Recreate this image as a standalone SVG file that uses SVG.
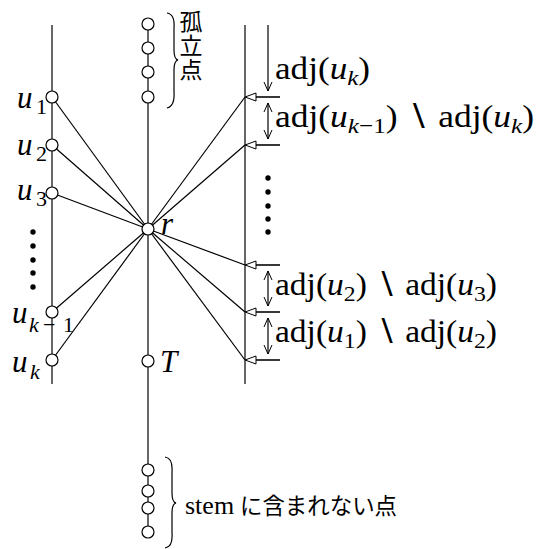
<svg xmlns="http://www.w3.org/2000/svg" width="536" height="549" viewBox="0 0 536 549">
<style>
.ln{stroke:#000;stroke-width:1.2;fill:none}
.hl{stroke:#222;stroke-width:1.8;fill:none}
.tri{fill:#fff;stroke:#000;stroke-width:1}
.nd{fill:#fff;stroke:#000;stroke-width:1.2}
.dot{fill:#000}
.t{font-family:'Liberation Serif','DejaVu Serif','Noto Serif',serif;font-size:31px;fill:#000}
.i{font-style:italic}
.s{font-size:22px}
.j{font-family:'Noto Sans CJK JP','Noto Sans CJK SC',sans-serif;font-size:23px;fill:#000}
</style>
<defs>
<marker id="v" viewBox="0 0 10 10" refX="10" refY="5" markerWidth="10" markerHeight="10" markerUnits="userSpaceOnUse" orient="auto-start-reverse">
<path d="M1,1 L10,5 L1,9" fill="none" stroke="#000" stroke-width="1"/>
</marker>
</defs>

<g id="connectors">
<line class="ln" x1="52" y1="25" x2="52" y2="384"/>
<line class="ln" x1="245" y1="25" x2="245" y2="384"/>
<line class="ln" x1="148" y1="24" x2="148" y2="532"/>
<line class="ln" x1="52" y1="97" x2="148" y2="229"/>
<line class="ln" x1="52" y1="145" x2="148" y2="229"/>
<line class="ln" x1="52" y1="193" x2="148" y2="229"/>
<line class="ln" x1="52" y1="312" x2="148" y2="229"/>
<line class="ln" x1="52" y1="360" x2="148" y2="229"/>
<line class="ln" x1="148" y1="229" x2="245" y2="97"/>
<line class="ln" x1="148" y1="229" x2="245" y2="145"/>
<line class="ln" x1="148" y1="229" x2="245" y2="265"/>
<line class="ln" x1="148" y1="229" x2="245" y2="312"/>
<line class="ln" x1="148" y1="229" x2="245" y2="360"/>
<line class="hl" x1="255" y1="97" x2="280" y2="97"/>
<line class="hl" x1="255" y1="145" x2="280" y2="145"/>
<line class="hl" x1="255" y1="265" x2="280" y2="265"/>
<line class="hl" x1="255" y1="312" x2="280" y2="312"/>
<line class="hl" x1="255" y1="360" x2="280" y2="360"/>
<polygon class="tri" points="245,97 256,93 256,101"/>
<polygon class="tri" points="245,145 256,141 256,149"/>
<polygon class="tri" points="245,265 256,261 256,269"/>
<polygon class="tri" points="245,312 256,308 256,316"/>
<polygon class="tri" points="245,360 256,356 256,364"/>
<line class="ln" x1="268" y1="25" x2="268" y2="91" stroke-width="1" marker-end="url(#v)"/>
<line class="ln" x1="268" y1="103" x2="268" y2="139" stroke-width="1" marker-start="url(#v)" marker-end="url(#v)"/>
<line class="ln" x1="268" y1="271" x2="268" y2="306" stroke-width="1" marker-start="url(#v)" marker-end="url(#v)"/>
<line class="ln" x1="268" y1="318" x2="268" y2="354" stroke-width="1" marker-start="url(#v)" marker-end="url(#v)"/>
<path class="ln" stroke-width="1" d="M167,13 Q175,14 174,28 L174,50 Q174,59 178,60 Q174,61 174,70 L174,92 Q175,106 167,108"/>
<path class="ln" stroke-width="1" d="M165,457 Q173,458 172,472 L172,493 Q172,502 176,503 Q172,504 172,513 L172,533 Q173,547 165,548"/>
</g>

<g id="node-iso1"><circle class="nd" cx="148" cy="24" r="6"/></g>
<g id="node-iso2"><circle class="nd" cx="148" cy="48" r="6"/></g>
<g id="node-iso3"><circle class="nd" cx="148" cy="72" r="6"/></g>
<g id="node-iso4"><circle class="nd" cx="148" cy="97" r="6"/></g>
<g id="label-iso"><text class="j" x="191" y="10" style="writing-mode:vertical-rl;letter-spacing:1px">孤立点</text></g>

<g id="node-u1"><circle class="nd" cx="52" cy="97" r="6"/><text class="t" x="17" y="108"><tspan class="i">u</tspan><tspan class="s" x="36" dy="6">1</tspan></text></g>
<g id="node-u2"><circle class="nd" cx="52" cy="145" r="6"/><text class="t" x="17" y="155"><tspan class="i">u</tspan><tspan class="s" x="36" dy="6">2</tspan></text></g>
<g id="node-u3"><circle class="nd" cx="52" cy="193" r="6"/><text class="t" x="17" y="200"><tspan class="i">u</tspan><tspan class="s" x="36" dy="6">3</tspan></text></g>
<g id="node-uk1"><circle class="nd" cx="52" cy="312" r="6"/><text class="t" x="12" y="323"><tspan class="i">u</tspan><tspan class="s i" x="29" dy="9">k</tspan><tspan class="s" x="43">−</tspan><tspan class="s" x="63">1</tspan></text></g>
<g id="node-uk"><circle class="nd" cx="52" cy="360" r="6"/><text class="t" x="12" y="372"><tspan class="i">u</tspan><tspan class="s i" x="30" dy="7">k</tspan></text></g>

<g id="dots-left">
<circle class="dot" cx="33" cy="232" r="2.7"/><circle class="dot" cx="33" cy="246" r="2.7"/><circle class="dot" cx="33" cy="260" r="2.7"/><circle class="dot" cx="33" cy="273" r="2.7"/><circle class="dot" cx="33" cy="287" r="2.7"/>
</g>
<g id="dots-right">
<circle class="dot" cx="268" cy="178" r="2.7"/><circle class="dot" cx="268" cy="192" r="2.7"/><circle class="dot" cx="268" cy="206" r="2.7"/><circle class="dot" cx="268" cy="219" r="2.7"/><circle class="dot" cx="268" cy="232" r="2.7"/>
</g>

<g id="node-r"><circle class="nd" cx="148" cy="229" r="6"/><text class="t i" x="161" y="234">r</text></g>
<g id="node-T"><circle class="nd" cx="148" cy="361" r="6"/><text class="t i" x="160" y="372">T</text></g>

<g id="node-b1"><circle class="nd" cx="148" cy="470" r="6"/></g>
<g id="node-b2"><circle class="nd" cx="148" cy="491" r="6"/></g>
<g id="node-b3"><circle class="nd" cx="148" cy="508" r="6"/></g>
<g id="node-b4"><circle class="nd" cx="148" cy="532" r="6"/></g>
<g id="label-stem"><text class="t" x="185" y="514" style="font-size:26px">stem</text><text class="j" x="240" y="514" textLength="157" lengthAdjust="spacingAndGlyphs">に含まれない点</text></g>

<g id="labels-adj">
<text class="t" x="275" y="79" textLength="95" lengthAdjust="spacingAndGlyphs">adj(<tspan class="i">u</tspan><tspan class="s i" dy="6">k</tspan><tspan dy="-6">)</tspan></text>
<text class="t" x="275" y="127" textLength="259" lengthAdjust="spacingAndGlyphs">adj(<tspan class="i">u</tspan><tspan class="s i" dy="6">k</tspan><tspan class="s">−1</tspan><tspan dy="-6">) ∖ adj(</tspan><tspan class="i">u</tspan><tspan class="s i" dy="6">k</tspan><tspan dy="-6">)</tspan></text>
<text class="t" x="275" y="295" textLength="222" lengthAdjust="spacingAndGlyphs">adj(<tspan class="i">u</tspan><tspan class="s" dy="6">2</tspan><tspan dy="-6">) ∖ adj(</tspan><tspan class="i">u</tspan><tspan class="s" dy="6">3</tspan><tspan dy="-6">)</tspan></text>
<text class="t" x="275" y="342" textLength="222" lengthAdjust="spacingAndGlyphs">adj(<tspan class="i">u</tspan><tspan class="s" dy="6">1</tspan><tspan dy="-6">) ∖ adj(</tspan><tspan class="i">u</tspan><tspan class="s" dy="6">2</tspan><tspan dy="-6">)</tspan></text>
</g>
</svg>
